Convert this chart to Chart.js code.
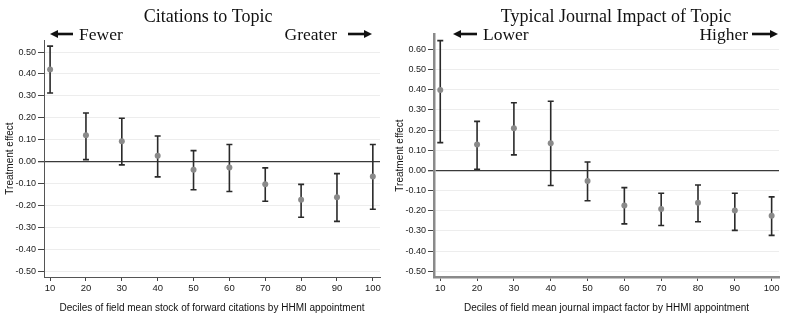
<!DOCTYPE html>
<html>
<head>
<meta charset="utf-8">
<script src="https://cdn.jsdelivr.net/npm/chart.js@4.4.1/dist/chart.umd.min.js"></script>
<style>
  html, body { margin: 0; padding: 0; background: #fff; }
  #wrap { position: relative; width: 800px; height: 330px; }
  .panel { position: absolute; top: 0; height: 330px; }
</style>
</head>
<body>
<div id="wrap">
  <div class="panel" style="left:0;width:390px"><canvas id="citeChart" width="390" height="330"></canvas></div>
  <div class="panel" style="left:390px;width:410px"><canvas id="impactChart" width="410" height="330"></canvas></div>
</div>
<script>
// deciles on the x axis (shared)
const deciles = [10, 20, 30, 40, 50, 60, 70, 80, 90, 100];

// left panel: citations to topic
const citeEffect = [0.42, 0.12, 0.093, 0.026, -0.037, -0.027, -0.104, -0.174, -0.163, -0.068];
const citeLower  = [0.313, 0.009, -0.015, -0.070, -0.129, -0.137, -0.181, -0.254, -0.273, -0.218];
const citeUpper  = [0.527, 0.222, 0.198, 0.117, 0.050, 0.078, -0.029, -0.104, -0.055, 0.078];
const citeYTicks = [-0.5, -0.4, -0.3, -0.2, -0.1, 0, 0.1, 0.2, 0.3, 0.4, 0.5];

// right panel: typical journal impact of topic
const impactEffect = [0.398, 0.128, 0.209, 0.135, -0.052, -0.174, -0.191, -0.160, -0.199, -0.224];
const impactLower  = [0.138, 0.006, 0.077, -0.075, -0.150, -0.265, -0.273, -0.254, -0.297, -0.322];
const impactUpper  = [0.643, 0.243, 0.335, 0.343, 0.042, -0.085, -0.113, -0.072, -0.113, -0.131];
const impactYTicks = [-0.5, -0.4, -0.3, -0.2, -0.1, 0, 0.1, 0.2, 0.3, 0.4, 0.5, 0.6];

const sans = '"Liberation Sans", Arial, sans-serif';
const serif = '"Liberation Serif", "Times New Roman", serif';

// whiskers, drawn under the points
const errorBars = {
    id: 'errorBars',
    beforeDatasetsDraw(chart) {
        const ds = chart.data.datasets[0];
        const x = chart.scales.x, y = chart.scales.y;
        const ctx = chart.ctx;
        ctx.save();
        ctx.strokeStyle = '#2a2a2a';
        ctx.lineWidth = 1.6;
        ds.data.forEach((p, i) => {
            const px = x.getPixelForValue(p.x);
            const top = y.getPixelForValue(ds.upper[i]);
            const bot = y.getPixelForValue(ds.lower[i]);
            ctx.beginPath();
            ctx.moveTo(px, top); ctx.lineTo(px, bot);
            ctx.moveTo(px - 3, top); ctx.lineTo(px + 3, top);
            ctx.moveTo(px - 3, bot); ctx.lineTo(px + 3, bot);
            ctx.stroke();
        });
        ctx.restore();
    }
};

function drawArrow(ctx, x1, x2, y) {
    const dir = x2 > x1 ? 1 : -1;
    ctx.beginPath();
    ctx.moveTo(x1, y);
    ctx.lineTo(x2 - dir * 6, y);
    ctx.lineWidth = 2.6;
    ctx.stroke();
    ctx.beginPath();
    ctx.moveTo(x2, y);
    ctx.lineTo(x2 - dir * 8, y - 4);
    ctx.lineTo(x2 - dir * 8, y + 4);
    ctx.closePath();
    ctx.fill();
}

// serif heading plus the direction labels
const headerText = {
    id: 'headerText',
    afterDraw(chart, args, o) {
        const ctx = chart.ctx;
        ctx.save();
        ctx.fillStyle = '#111';
        ctx.strokeStyle = '#111';
        ctx.textBaseline = 'middle';
        ctx.font = '18px ' + serif;
        ctx.textAlign = 'center';
        ctx.fillText(o.title, o.titleX, 17);
        ctx.font = '17.5px ' + serif;
        ctx.textAlign = 'left';
        ctx.fillText(o.lowText, o.lowX, 35);
        ctx.textAlign = 'right';
        ctx.fillText(o.highText, o.highX, 35);
        drawArrow(ctx, o.lowArrow[1], o.lowArrow[0], 34);
        drawArrow(ctx, o.highArrow[0], o.highArrow[1], 34);
        ctx.restore();
    }
};

function makeChart(canvasId, effect, lower, upper, yTicks, cfg) {
    const ctx = document.getElementById(canvasId);
    new Chart(ctx, {
        type: 'scatter',
        data: {
            datasets: [{
                data: deciles.map((d, i) => ({ x: d, y: effect[i] })),
                lower: lower,
                upper: upper,
                pointRadius: 3,
                pointBackgroundColor: '#8a8a8a',
                pointBorderWidth: 0,
                showLine: false
            }]
        },
        options: {
            responsive: false,
            animation: false,
            layout: { padding: { top: cfg.top, right: cfg.right, left: 0, bottom: 0 } },
            plugins: {
                legend: { display: false },
                tooltip: { enabled: false },
                headerText: cfg.header
            },
            scales: {
                x: {
                    type: 'linear',
                    min: 8.3,
                    max: 102,
                    afterBuildTicks: s => { s.ticks = deciles.map(v => ({ value: v })); },
                    afterFit: s => { s.height = 53; },
                    border: { color: cfg.axisColor, width: cfg.axisWidth },
                    grid: { drawOnChartArea: false, tickLength: 4, tickColor: '#444' },
                    ticks: { font: { family: sans, size: 9.5 }, color: '#1a1a1a', padding: 2, maxRotation: 0,
                             callback: v => v },
                    title: { display: true, text: cfg.xTitle, font: { family: sans, size: 10 },
                             color: '#111', padding: { top: 0, bottom: 16 } }
                },
                y: {
                    min: cfg.yMin,
                    max: cfg.yMax,
                    afterBuildTicks: s => { s.ticks = yTicks.map(v => ({ value: v })); },
                    afterFit: s => { s.width = 44; },
                    border: { color: cfg.axisColor, width: cfg.axisWidth },
                    grid: {
                        color: c => c.tick && c.tick.value === 0 ? '#3a3a3a' : '#ededed',
                        lineWidth: c => c.tick && c.tick.value === 0 ? 1.3 : 1,
                        tickLength: 6,
                        tickColor: '#444'
                    },
                    ticks: { font: { family: sans, size: 9 }, color: '#1a1a1a', padding: 2,
                             callback: v => v.toFixed(2) },
                    title: { display: true, text: 'Treatment effect', font: { family: sans, size: 10 },
                             color: '#111', padding: { top: 4, bottom: 2 } }
                }
            }
        },
        plugins: [errorBars, headerText]
    });
}

makeChart('citeChart', citeEffect, citeLower, citeUpper, citeYTicks, {
    top: 40, right: 10, yMin: -0.527, yMax: 0.555,
    axisColor: '#555', axisWidth: 1,
    xTitle: 'Deciles of field mean stock of forward citations by HHMI appointment',
    header: {
        title: 'Citations to Topic', titleX: 208,
        lowText: 'Fewer', lowX: 79, lowArrow: [50, 73],
        highText: 'Greater', highX: 337, highArrow: [348, 372]
    }
});

makeChart('impactChart', impactEffect, impactLower, impactUpper, impactYTicks, {
    top: 34, right: 21, yMin: -0.528, yMax: 0.676,
    axisColor: '#8a8a8a', axisWidth: 2.5,
    xTitle: 'Deciles of field mean journal impact factor by HHMI appointment',
    header: {
        title: 'Typical Journal Impact of Topic', titleX: 226,
        lowText: 'Lower', lowX: 93, lowArrow: [63, 87],
        highText: 'Higher', highX: 358, highArrow: [362, 388]
    }
});
</script>
</body>
</html>
